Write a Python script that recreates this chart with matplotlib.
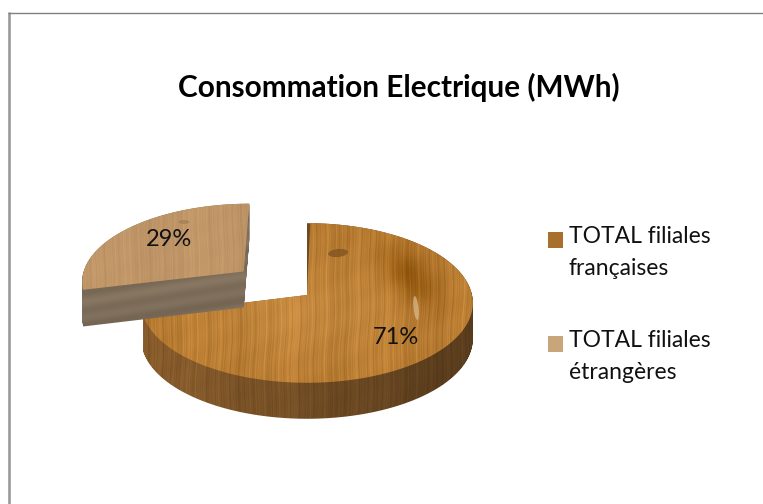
import matplotlib
matplotlib.use('Agg')
import matplotlib.pyplot as plt
import numpy as np
from matplotlib.patches import Patch, PathPatch, Ellipse
from matplotlib.path import Path

title = 'Consommation Electrique (MWh)'
labels = ['TOTAL filiales\nfrançaises', 'TOTAL filiales\nétrangères']
values = [71, 29]
explode = [0, 0.5]

W, H = 763, 504
cx, cy = 307, 295   # pie apex in pixels
rx, ry = 165, 79    # pie radii
persp = 0.1         # front of the pie looks bigger
depth = 36

plt.rcParams['font.family'] = ['Lato', 'DejaVu Sans']

fig = plt.figure(figsize=(W / 100, H / 100), dpi=100, facecolor='white')
ax = fig.add_axes([0, 0, 1, 1])
ax.axis('off')

# the pie is computed on a hidden axes, then its wedges get tilted to pixels
pie_ax = fig.add_axes([0, 0, 0.1, 0.1])
wedges, _ = pie_ax.pie(values, explode=explode, startangle=90, counterclock=False)
pie_ax.set_visible(False)


def tilt(wedge):
    t = np.radians(np.linspace(wedge.theta1, wedge.theta2, 200))
    px = np.r_[wedge.center[0], wedge.center[0] + wedge.r * np.cos(t)]
    py = np.r_[wedge.center[1], wedge.center[1] + wedge.r * np.sin(t)]
    w = 1 + persp * py
    return np.column_stack([cx + rx * px / w, cy - ry * py / w])


yy, xx = np.mgrid[0:H, 0:W].astype(float)


def grain(x):
    return (0.22 * np.sin(0.83 * x + 1.0) + 0.20 * np.sin(1.37 * x + 2.1)
            + 0.16 * np.sin(0.41 * x + 0.4) + 0.18 * np.sin(2.11 * x + 0.7)
            + 0.14 * np.sin(0.19 * x + 2.9) + 0.16 * np.sin(3.03 * x + 1.9)
            + 0.20 * np.sin(0.07 * x + 0.2))


def wood(base, amount, wiggle=1.5):
    x = xx + wiggle * np.sin(yy / 53.0) + 0.8 * np.sin(yy / 13.0 + xx / 60.0)
    g = grain(x) + 0.08 * np.sin(yy / 5.0 + xx / 9.0)
    img = np.ones((H, W, 3)) * np.array(base, dtype=float)
    return np.clip(img + (g * amount)[:, :, None] * np.array([1.0, 0.85, 0.6]), 0, 255) / 255


def draw_image(img, path):
    im = ax.imshow(np.clip(img, 0, 1), extent=(0, W, H, 0), aspect='auto', interpolation='bilinear')
    patch = PathPatch(path, transform=ax.transData, fc='none', ec='none')
    ax.add_patch(patch)
    im.set_clip_path(patch)


def swept(poly):
    polys = [Path(np.vstack([poly + [0, d], poly[:1] + [0, d]]), closed=True) for d in np.arange(depth + 1)]
    return Path.make_compound_path(*polys)


main_poly = tilt(wedges[0])
other_poly = tilt(wedges[1])

# side of the big slice
side = wood((124, 84, 40), 13)
side *= (1.12 - 0.42 * np.clip((xx - 145) / 330, 0, 1))[:, :, None]
draw_image(side, swept(main_poly))

# top of the big slice
top = wood((184, 124, 50), 20)
streak = np.exp(-((xx - 0.55 * (yy - 250) - 395) / 24.0) ** 2 - ((yy - 275) / 30.0) ** 2)
top -= 0.13 * streak[:, :, None]
top += 0.05 * np.exp(-((xx - 300) / 90.0) ** 2 - ((yy - 310) / 50.0) ** 2)[:, :, None]
draw_image(top, Path(main_poly, closed=True))
for (ex, ey, ew, eh, ecol, ea) in [(338, 253, 20, 8, '#7a4f1e', 0.7), (416, 308, 5, 24, '#dcbd94', 0.7)]:
    ax.add_patch(Ellipse((ex, ey), ew, eh, angle=-6, fc=ecol, ec='none', alpha=ea))

# detached slice: flat grey brown layers on the side, pale wood on top
layers = 126 + 6 * np.sin((yy + 0.16 * xx) / 2.6) + 4 * np.sin((yy + 0.16 * xx) / 6.1)
side2 = np.dstack([layers, layers * 0.87, layers * 0.72]) / 255
draw_image(side2, swept(other_poly))
draw_image(wood((192, 150, 104), 11), Path(other_poly, closed=True))
ax.add_patch(Ellipse((184, 222), 11, 4, fc='#8f7350', ec='none', alpha=0.5))

ax.set_xlim(0, W)
ax.set_ylim(H, 0)

# chart frame, only top and left show
ax.plot([8.7, 8.7], [H, 12], color='#9a9a9a', lw=1.9, solid_capstyle='butt')
ax.plot([7.5, W], [12.5, 12.5], color='#808080', lw=1.0, solid_capstyle='butt')

ax.text(399, 87, title, ha='center', va='center', fontsize=21.4, fontweight='bold', color='black')
ax.text(396, 337, '%d%%' % values[0], ha='center', va='center', fontsize=17, color='#111111')
ax.text(169, 239, '%d%%' % values[1], ha='center', va='center', fontsize=17, color='#111111')

handles = [Patch(fc='#a8702c', ec='none'), Patch(fc='#c8a57a', ec='none')]
leg = ax.legend(handles, labels, loc='upper left', bbox_to_anchor=(548 / W, 1 - 226 / H), frameon=False,
                fontsize=16.5, handlelength=0.66, handleheight=0.66, handletextpad=0.24, labelspacing=2.22,
                borderpad=0, borderaxespad=0)
for t in leg.get_texts():
    t.set_linespacing(1.65)
    t.set_color('#111111')
# swatch sits beside the first line of its label
for p in leg.get_patches():
    p.set_y(p.get_y() + 9.4)

fig.savefig('out.png', dpi=100)
